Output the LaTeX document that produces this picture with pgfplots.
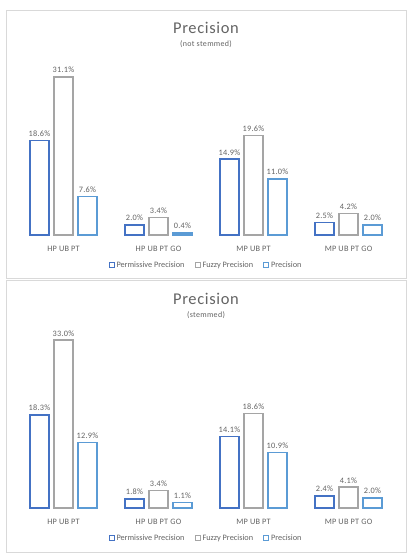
\documentclass[border=0pt]{standalone}
\usepackage{fontspec}
\setmainfont{Carlito}
\usepackage{pgfplots}
\pgfplotsset{compat=1.18}
\definecolor{cperm}{HTML}{4472C4}
\definecolor{cfuzzy}{HTML}{A5A5A5}
\definecolor{cprec}{HTML}{5B9BD5}
\definecolor{ctext}{HTML}{646464}
\definecolor{cbox}{HTML}{D9D9D9}
\pgfplotsset{
  precstyle/.style={
    scale only axis, width=380bp, height=178bp,
    xmin=-0.5, xmax=3.5, ymin=0, ymax=35,
    axis line style={draw=none}, tick style={draw=none},
    ytick=\empty, xtick={0,1,2,3},
    xticklabels={HP UB PT, HP UB PT GO, MP UB PT, MP UB PT GO},
    xticklabel style={font=\fontsize{8.3}{9}\selectfont\addfontfeature{LetterSpace=3}, text=ctext, yshift=-3bp},
    ybar=5bp, bar width=19bp,
    /pgf/number format/assume math mode=true,
    nodes near coords={\pgfmathprintnumber[fixed,fixed zerofill,precision=1]{\pgfplotspointmeta}\%},
    every node near coord/.append style={font=\fontsize{8.3}{9}\selectfont\addfontfeature{LetterSpace=3}, text=ctext},
    legend columns=3,
    legend style={draw=none, fill=none, at={(0.5,0)}, anchor=center, yshift=-30bp,
      font=\fontsize{8.3}{9}\selectfont, text=ctext,
      /tikz/every even column/.append style={column sep=8bp}},
    legend image code/.code={\draw[##1, line width=1bp, fill=white] (0bp,-2.5bp) rectangle (5bp,2.5bp);},
    clip=false,
  },
  sperm/.style={draw=cperm, fill=white, line width=1.5bp},
  sfuzzy/.style={draw=cfuzzy, fill=white, line width=1.5bp},
  sprec/.style={draw=cprec, fill=white, line width=1.5bp},
}
\begin{document}
\begin{tikzpicture}
\useasboundingbox (0,0) rectangle (409bp,556bp);
\fill[white] (0,0) rectangle (409bp,556bp);
% boxes
\draw[cbox, line width=0.8bp] (6bp,278bp) rectangle (406bp,546bp);
\draw[cbox, line width=0.8bp] (6bp,4bp) rectangle (406bp,276bp);
% titles
\node[text=ctext, font=\fontsize{16.5}{18}\selectfont\addfontfeature{LetterSpace=4}] at (206bp,528bp) {Precision};
\node[text=ctext, font=\fontsize{8}{9}\selectfont\addfontfeature{LetterSpace=4}] at (206bp,512bp) {(not stemmed)};
\node[text=ctext, font=\fontsize{16.5}{18}\selectfont\addfontfeature{LetterSpace=4}] at (206bp,257bp) {Precision};
\node[text=ctext, font=\fontsize{8}{9}\selectfont\addfontfeature{LetterSpace=4}] at (206bp,241bp) {(stemmed)};

\begin{axis}[precstyle, at={(16bp,321bp)}, anchor=south west]
\addplot[sperm] coordinates {(0,18.6) (1,2.0) (2,14.9) (3,2.5)};
\addplot[sfuzzy] coordinates {(0,31.1) (1,3.4) (2,19.6) (3,4.2)};
\addplot[sprec] coordinates {(0,7.6) (1,0.4) (2,11.0) (3,2.0)};
\legend{Permissive Precision, Fuzzy Precision, Precision}
\end{axis}

\begin{axis}[precstyle, at={(16bp,48bp)}, anchor=south west]
\addplot[sperm] coordinates {(0,18.3) (1,1.8) (2,14.1) (3,2.4)};
\addplot[sfuzzy] coordinates {(0,33.0) (1,3.4) (2,18.6) (3,4.1)};
\addplot[sprec] coordinates {(0,12.9) (1,1.1) (2,10.9) (3,2.0)};
\legend{Permissive Precision, Fuzzy Precision, Precision}
\end{axis}
\end{tikzpicture}
\end{document}
